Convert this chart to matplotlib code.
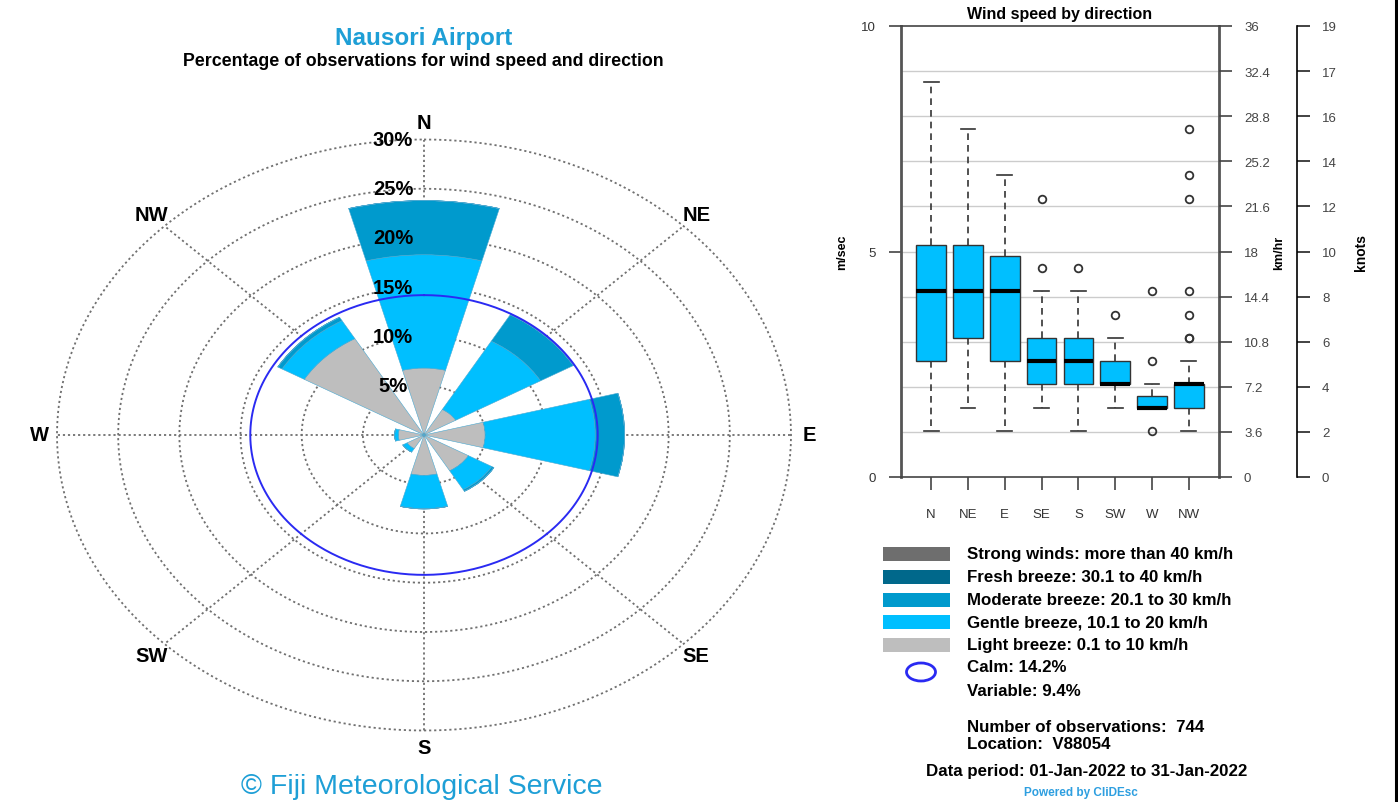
import matplotlib
matplotlib.use('Agg')
import matplotlib.pyplot as plt
import numpy as np
from matplotlib.patches import Rectangle, Ellipse

plt.rcParams['font.family'] = ['Liberation Sans', 'DejaVu Sans']

# wind rose data (% of observations, stacked by speed class)
directions = ['N', 'NE', 'E', 'SE', 'S', 'SW', 'W', 'NW']
light = [6.8, 3.0, 5.0, 4.2, 4.1, 1.6, 2.1, 11.3]
gentle = [11.5, 8.0, 9.0, 2.2, 3.4, 0.4, 0.3, 2.1]
moderate = [5.5, 3.1, 2.4, 0.2, 0.0, 0.0, 0.0, 0.4]
fresh = [0.0, 0.0, 0.0, 0.0, 0.0, 0.0, 0.0, 0.0]
strong = [0.0, 0.0, 0.0, 0.0, 0.0, 0.0, 0.0, 0.0]
calm = 14.2
variable = 9.4
ring_pct = [5, 10, 15, 20, 25, 30]

class_names = ['Strong winds: more than 40 km/h', 'Fresh breeze: 30.1 to 40 km/h',
               'Moderate breeze: 20.1 to 30 km/h', 'Gentle breeze, 10.1 to 20 km/h',
               'Light breeze: 0.1 to 10 km/h']
class_colors = ['#6E6E6E', '#00688B', '#009ACD', '#00BFFF', '#BEBEBE']

# wind speed by direction, box stats in m/s
q1 = [2.57, 3.09, 2.57, 2.06, 2.06, 2.06, 1.54, 1.54]
med = [4.12, 4.12, 4.12, 2.57, 2.57, 2.06, 1.54, 2.06]
q3 = [5.14, 5.14, 4.89, 3.09, 3.09, 2.57, 1.80, 2.06]
whislo = [1.03, 1.54, 1.03, 1.54, 1.03, 1.54, 1.54, 1.03]
whishi = [8.75, 7.72, 6.69, 4.12, 4.12, 3.09, 2.06, 2.57]
fliers = [[], [], [], [4.63, 6.17], [4.63], [3.60], [1.03, 2.57, 4.12],
          [3.09, 3.09, 3.60, 4.12, 6.17, 6.69, 7.72]]
kmh_ticks = [0, 3.6, 7.2, 10.8, 14.4, 18, 21.6, 25.2, 28.8, 32.4, 36]
knot_labels = ['0', '2', '4', '6', '8', '10', '12', '14', '16', '17', '19']

fig = plt.figure(figsize=(13.98, 8.03), dpi=100)
W, H = 1398, 803

# ---- wind rose ----
ax = fig.add_axes([57 / W, 71.5 / H, 734 / W, 591 / H], projection='polar')
ax.set_theta_zero_location('N')
ax.set_theta_direction(-1)
ax.set_aspect('auto')
ax.set_ylim(0, 30)
ax.grid(False)
ax.set_xticks([])
ax.set_yticks([])
ax.spines['polar'].set_visible(False)

full = np.linspace(0, 2 * np.pi, 400)
dots = (0, (1.2, 1.6))
for r in ring_pct:
    ax.plot(full, np.full_like(full, r), ls=dots, color='#707070', lw=1.3, zorder=1,
            clip_on=False)
theta = np.deg2rad(np.arange(8) * 45)
for t in theta:
    ax.plot([t, t], [0, 30], ls=dots, color='#707070', lw=1.3, zorder=1, clip_on=False)

bottom = np.zeros(8)
for vals, col in zip([light, gentle, moderate, fresh, strong], class_colors[::-1]):
    ax.bar(theta, vals, width=np.pi / 6, bottom=bottom, color=col,
           edgecolor='#4aa8d0', linewidth=0.4, zorder=2)
    bottom += np.array(vals)

ax.plot(full, np.full_like(full, calm), color='#2a2af2', lw=1.4, zorder=3)

for r in ring_pct:
    ax.annotate(f'{r}%', xy=(0, r), xytext=(-31, 0), textcoords='offset pixels',
                ha='center', va='center', fontsize=14.5, fontweight='bold', zorder=4)
for t, d in zip(theta, directions):
    ax.annotate(d, xy=(t, 30), xytext=(18 * np.sin(t), 17 * np.cos(t)),
                textcoords='offset pixels', ha='center', va='center',
                fontsize=14.5, fontweight='bold')

# ---- box plot ----
bx = fig.add_axes([901 / W, (H - 478) / H, 318 / W, 451 / H])
stats = []
for i in range(8):
    stats.append(dict(q1=q1[i], med=med[i], q3=q3[i], whislo=whislo[i],
                      whishi=whishi[i], fliers=fliers[i]))
bx.bxp(stats, positions=range(1, 9), widths=0.8, capwidths=0.4, patch_artist=True,
       boxprops=dict(facecolor='#00BFFF', edgecolor='#333333', lw=1),
       medianprops=dict(color='black', lw=3),
       whiskerprops=dict(color='#333333', lw=1.2, ls=(0, (4, 3))),
       capprops=dict(color='#333333', lw=1.2),
       flierprops=dict(marker='o', mfc='none', mec='#333333', ms=5.5, mew=1.3))
bx.set_xlim(0.18, 8.82)
bx.set_ylim(0, 10)
for g in range(1, 10):
    bx.axhline(g, color='#CCCCCC', lw=1, zorder=0)
bx.set_yticks([0, 5, 10])
bx.set_xticks(range(1, 9))
bx.set_xticklabels(directions)
bx.tick_params(axis='both', direction='out', length=9, width=1.2, color='#444444',
               labelcolor='#333333', labelsize=9.5, pad=9)
bx.tick_params(axis='x', pad=13)
for s in ['left', 'right']:
    bx.spines[s].set_linewidth(2)
    bx.spines[s].set_color('#555555')
for s in ['top', 'bottom']:
    bx.spines[s].set_linewidth(1.2)
    bx.spines[s].set_color('#444444')
bx.set_title('Wind speed by direction', fontsize=11.5, fontweight='bold', pad=6)
bx.set_ylabel('m/sec', fontsize=9, fontweight='bold', labelpad=9)

kx = bx.twinx()
kx.set_ylim(0, 36)
kx.set_yticks(kmh_ticks)
kx.set_yticklabels([f'{v:g}' for v in kmh_ticks])
kx.tick_params(axis='y', direction='out', length=9, width=1.2, color='#444444',
               labelcolor='#444444', labelsize=9.5, pad=9)
for s in kx.spines.values():
    s.set_visible(False)
kx.set_ylabel('km/hr', fontsize=9, fontweight='bold', labelpad=2)

nx = fig.add_axes([1260 / W, (H - 478) / H, 37 / W, 451 / H])
nx.set_ylim(0, 36)
nx.set_xticks([])
nx.yaxis.tick_right()
nx.set_yticks(kmh_ticks)
nx.set_yticklabels(knot_labels)
nx.tick_params(axis='y', direction='out', length=9, width=1.2, color='#222222',
               labelcolor='#444444', labelsize=9.5, pad=9)
for s in ['left', 'top', 'bottom']:
    nx.spines[s].set_visible(False)
nx.spines['right'].set_linewidth(1.2)
nx.patch.set_visible(False)
nx.yaxis.set_label_position('right')
nx.set_ylabel('knots', fontsize=10, fontweight='bold', labelpad=12)

# ---- texts and legend in pixel coordinates ----
ov = fig.add_axes([0, 0, 1, 1])
ov.set_xlim(0, W)
ov.set_ylim(H, 0)
ov.axis('off')
ov.patch.set_visible(False)

ov.text(424, 39, 'Nausori Airport', ha='center', va='center', fontsize=17.5,
        color='#1E9FD6', fontweight='bold')
ov.text(423, 62, 'Percentage of observations for wind speed and direction',
        ha='center', va='center', fontsize=12.8, fontweight='bold')
ov.text(422, 787, '\u00a9 Fiji Meteorological Service', ha='center', va='center',
        fontsize=20.5, color='#1E9FD6')

legend_fs = 12.2
rows = [555, 578, 601, 623, 646]
for y, name, col in zip(rows, class_names, class_colors):
    ov.add_patch(Rectangle((883, y - 7), 67, 14, facecolor=col, edgecolor='none'))
    ov.text(967, y, name, ha='left', va='center', fontsize=legend_fs, fontweight='bold')
ov.add_patch(Ellipse((921, 673), 29, 18, facecolor='none', edgecolor='#2a2af2', lw=2))
ov.text(967, 668, f'Calm: {calm}%', ha='left', va='center', fontsize=legend_fs,
        fontweight='bold')
ov.text(967, 692, f'Variable: {variable}%', ha='left', va='center', fontsize=legend_fs,
        fontweight='bold')
ov.text(967, 728, 'Number of observations:  744', ha='left', va='center',
        fontsize=legend_fs, fontweight='bold')
ov.text(967, 745, 'Location:  V88054', ha='left', va='center', fontsize=legend_fs,
        fontweight='bold')
ov.text(1087, 772, 'Data period: 01-Jan-2022 to 31-Jan-2022', ha='center', va='center',
        fontsize=legend_fs, fontweight='bold')
ov.text(1081, 793, 'Powered by CliDEsc', ha='center', va='center', fontsize=8.5,
        fontweight='bold', color='#2E9FE0')
ov.plot([1395.5, 1395.5], [0, H], color='black', lw=2.2)

fig.savefig('out.png', dpi=100)
